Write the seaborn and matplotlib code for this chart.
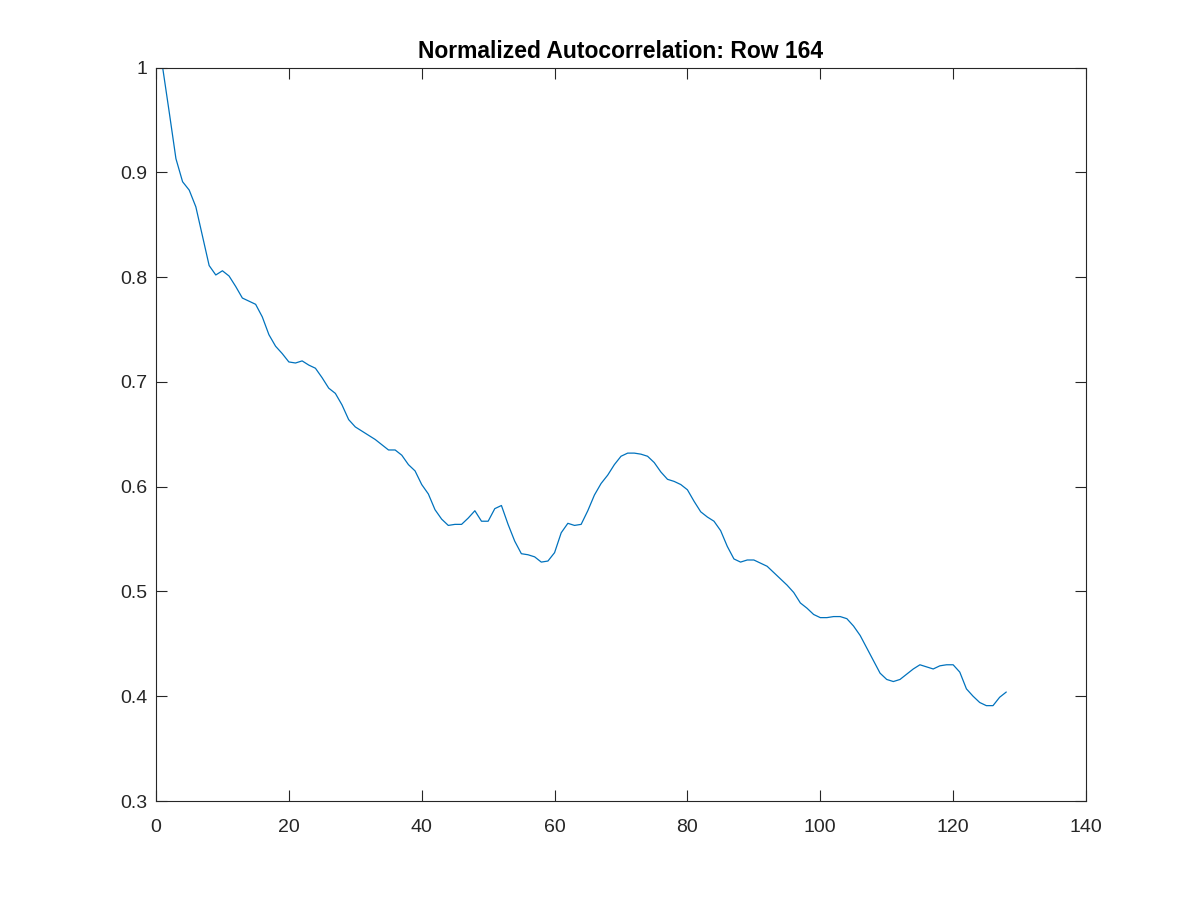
import numpy as np
import pandas as pd
import matplotlib
matplotlib.use('Agg')
import matplotlib.pyplot as plt
import seaborn as sns

#%% Data (lag vs normalized autocorrelation)

lags = list(range(1, 129))
acf = [1.000, 0.957, 0.913, 0.891, 0.883, 0.867, 0.839, 0.811, 0.802, 0.806,
       0.801, 0.791, 0.780, 0.777, 0.774, 0.762, 0.745, 0.734, 0.727, 0.719,
       0.718, 0.720, 0.716, 0.713, 0.704, 0.694, 0.689, 0.678, 0.664, 0.657,
       0.653, 0.649, 0.645, 0.640, 0.635, 0.635, 0.630, 0.621, 0.615, 0.602,
       0.593, 0.578, 0.569, 0.563, 0.564, 0.564, 0.570, 0.577, 0.567, 0.567,
       0.579, 0.582, 0.564, 0.548, 0.536, 0.535, 0.533, 0.528, 0.529, 0.537,
       0.556, 0.565, 0.563, 0.564, 0.577, 0.592, 0.603, 0.611, 0.621, 0.629,
       0.632, 0.632, 0.631, 0.629, 0.623, 0.614, 0.607, 0.605, 0.602, 0.597,
       0.586, 0.576, 0.571, 0.567, 0.558, 0.543, 0.531, 0.528, 0.530, 0.530,
       0.527, 0.524, 0.518, 0.512, 0.506, 0.499, 0.489, 0.484, 0.478, 0.475,
       0.475, 0.476, 0.476, 0.474, 0.467, 0.458, 0.446, 0.434, 0.422, 0.416,
       0.414, 0.416, 0.421, 0.426, 0.430, 0.428, 0.426, 0.429, 0.430, 0.430,
       0.423, 0.407, 0.400, 0.394, 0.391, 0.391, 0.399, 0.404]

xTicks = [0, 20, 40, 60, 80, 100, 120, 140]
yTicks = [0.3, 0.4, 0.5, 0.6, 0.7, 0.8, 0.9, 1.0]
yTickLabels = ['0.3', '0.4', '0.5', '0.6', '0.7', '0.8', '0.9', '1']

df = pd.DataFrame({'lag': lags, 'acf': acf})

#%% Plot, MATLAB look

sns.set_style('white')
plt.rcParams['font.family'] = ['Liberation Sans', 'DejaVu Sans']

fig = plt.figure(figsize=(12, 9), dpi=100)
ax = fig.add_axes([0.13, 0.11, 0.775, 0.815])

sns.lineplot(data=df, x='lag', y='acf', ax=ax, color='#0072BD', linewidth=0.9)

ax.set_xlim(0, 140)
ax.set_ylim(0.3, 1.0)
ax.set_xticks(xTicks)
ax.set_yticks(yTicks)
ax.set_yticklabels(yTickLabels)
ax.set_xlabel('')
ax.set_ylabel('')

for spine in ax.spines.values():
    spine.set_visible(True)
    spine.set_color('#262626')
    spine.set_linewidth(0.8)

ax.tick_params(direction='in', length=8, width=0.8, colors='#262626',
               labelsize=14, top=True, right=True, bottom=True, left=True)
ax.tick_params(axis='x', pad=13)
ax.tick_params(axis='y', pad=6)

ax.set_title('Normalized Autocorrelation: Row 164', fontsize=16.5,
             fontweight='bold', color='black', pad=7)

fig.savefig('out.png', dpi=100)
